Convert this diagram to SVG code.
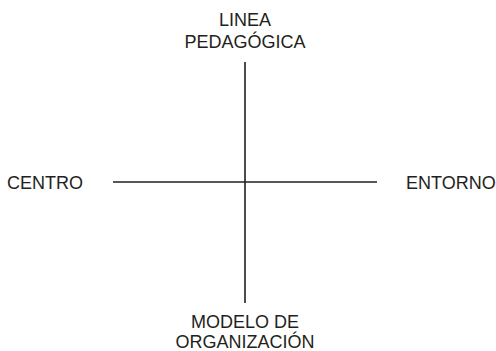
<svg xmlns="http://www.w3.org/2000/svg" width="496" height="351" viewBox="0 0 496 351">
<style>
.lbl{font-family:"Liberation Sans",Arial,sans-serif;font-size:18px;fill:#231f20}
.ax{stroke:#231f20;stroke-width:1.6;fill:none}
</style>
<rect width="496" height="351" fill="#ffffff"/>
<g id="connectors">
<line class="ax" x1="245" y1="62" x2="245" y2="303"/>
<line class="ax" x1="113" y1="182" x2="377" y2="182"/>
</g>
<g id="linea">
<text class="lbl" x="245" y="26" text-anchor="middle">LINEA</text>
<text class="lbl" x="245" y="48" text-anchor="middle">PEDAGÓGICA</text>
</g>
<g id="centro">
<text class="lbl" x="7" y="189">CENTRO</text>
</g>
<g id="entorno">
<text class="lbl" x="406" y="189">ENTORNO</text>
</g>
<g id="modelo">
<text class="lbl" x="245" y="328" text-anchor="middle">MODELO DE</text>
<text class="lbl" x="245" y="348" text-anchor="middle">ORGANIZACIÓN</text>
</g>
</svg>
